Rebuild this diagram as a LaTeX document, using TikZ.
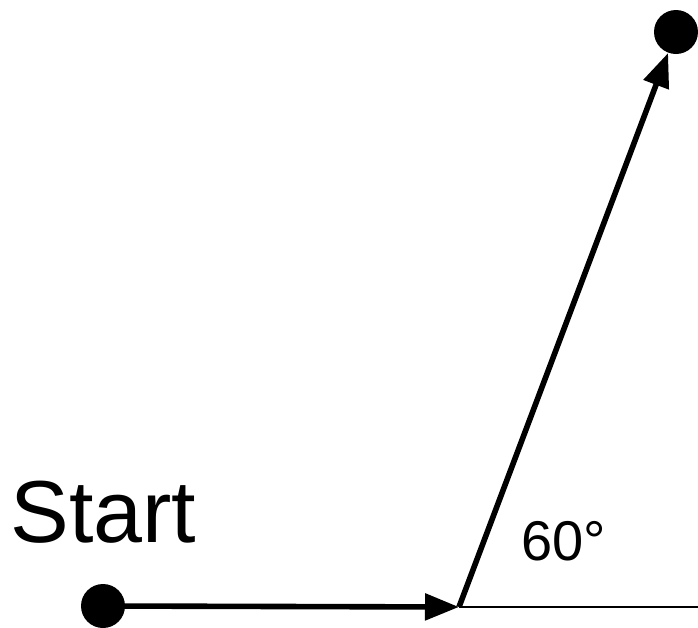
\documentclass[tikz,border=0pt]{standalone}
\usepackage{fontspec}
\setmainfont{Liberation Sans}
\usetikzlibrary{arrows.meta, positioning, calc}

\begin{document}
\begin{tikzpicture}[
  x=0.5pt, y=-0.5pt,
  dot/.style={circle, fill=black, inner sep=0pt, minimum size=22pt},
  arr/.style={-{Triangle[length=17pt, width=13pt]}, line width=2.8pt},
  lbl/.style={anchor=base west, inner sep=0pt}
]
  \useasboundingbox (0,0) rectangle (698,628);

  % Points
  \node[dot] (start) at (103,606) {};
  \node[dot] (goal) at (676,32) {};
  \coordinate (turn) at (459,607);
  \coordinate (ref) at (698,607);

  % Labels
  \node[lbl, font=\fontsize{44}{48}\selectfont] (startlbl) at (10,542) {Start};
  \node[lbl, font=\fontsize{28}{32}\selectfont] (angle) at (521,560) {60°};

  % Moves
  \draw[line width=1pt] (turn) -- (ref);
  \draw[arr] (start.center) -- (turn);
  \draw[arr] (turn) -- (goal);

\end{tikzpicture}
\end{document}
